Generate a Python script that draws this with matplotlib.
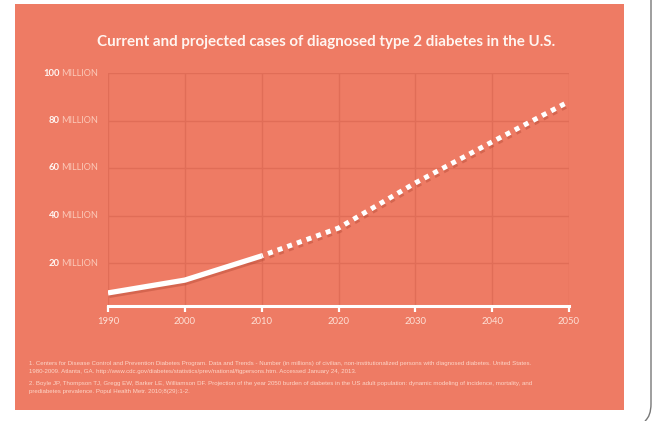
import matplotlib
matplotlib.use("Agg")
import matplotlib.pyplot as plt
import matplotlib.patheffects as pe
from matplotlib.patches import Rectangle, PathPatch
from matplotlib.path import Path

# data (millions of people)
years_actual = [1990, 2000, 2010]
cases_actual = [7.4, 12.8, 23.0]
years_proj = [2010, 2020, 2030, 2040, 2050]
cases_proj = [23.0, 34.7, 53.7, 71.0, 88.0]

x_ticks = [1990, 2000, 2010, 2020, 2030, 2040, 2050]
y_ticks = [20, 40, 60, 80, 100]

title = "Current and projected cases of diagnosed type 2 diabetes in the U.S."
notes = [
    "1. Centers for Disease Control and Prevention Diabetes Program. Data and Trends - Number (in millions) of civilian, non-institutionalized persons with diagnosed diabetes. United States.",
    "1980-2009. Atlanta, GA. http://www.cdc.gov/diabetes/statistics/prev/national/figpersons.htm. Accessed January 24, 2013.",
    "2. Boyle JP, Thompson TJ, Gregg EW, Barker LE, Williamson DF. Projection of the year 2050 burden of diabetes in the US adult population: dynamic modeling of incidence, mortality, and",
    "prediabetes prevalence. Popul Health Metr. 2010;8(29):1-2.",
]

bg = "#ee7b64"
grid_c = "#e06d57"
W, H = 657, 421

plt.rcParams['font.family'] = ['Lato', 'DejaVu Sans']
fig = plt.figure(figsize=(W / 100, H / 100), dpi=100)
fig.patch.set_facecolor("white")

# salmon card
fig.patches.append(Rectangle((15 / W, 1 - 410 / H), 609 / W, 406 / H,
                             transform=fig.transFigure, facecolor=bg, edgecolor="none", zorder=0))

# grey bracket on the right
verts = [(651 / W, 1.0), (651 / W, 1 - 404 / H), (651 / W, 1 - 416 / H), (645 / W, 1 - 421 / H)]
codes = [Path.MOVETO, Path.LINETO, Path.CURVE3, Path.CURVE3]
fig.patches.append(PathPatch(Path(verts, codes), transform=fig.transFigure,
                             facecolor="none", edgecolor="#777777", lw=1.0, zorder=1))

ax = fig.add_axes([108 / W, 110.5 / H, 461 / W, 237.5 / H])
ax.set_zorder(3)
ax.set_facecolor("none")
ax.set_xlim(1990, 2050)
ax.set_ylim(0, 100)

for yv in y_ticks:
    ax.plot([1990, 2050], [yv, yv], color=grid_c, lw=1.0, zorder=1)
for xv in x_ticks:
    ax.plot([xv, xv], [0, 100], color=grid_c, lw=1.0, zorder=1)

shadow = [pe.SimpleLineShadow(offset=(0.8, -1.8), shadow_color="#b04430", alpha=0.4), pe.Normal()]
ax.plot(years_actual, cases_actual, color="white", lw=3.8, solid_capstyle="butt",
        path_effects=shadow, zorder=4)
ax.plot(years_proj, cases_proj, color="white", lw=3.6, dash_capstyle="butt",
        linestyle=(0.7, (1.0, 1.05)), path_effects=shadow, zorder=4)

for s in ["top", "right", "left"]:
    ax.spines[s].set_visible(False)
ax.spines["bottom"].set_position(("data", 1.8))
ax.spines["bottom"].set_color("white")
ax.spines["bottom"].set_linewidth(2.2)
ax.spines["bottom"].set_zorder(5)

ax.set_xticks(x_ticks)
ax.set_xticklabels([str(v) for v in x_ticks])
ax.tick_params(axis="x", colors="white", length=4, width=1.6, direction="out", pad=4,
               labelsize=6.8, labelcolor="#fde0d6")
ax.set_yticks([])

# y labels: bold number + light "MILLION"
fig.canvas.draw()
renderer = fig.canvas.get_renderer()
for yv in y_ticks:
    t = ax.annotate("MILLION", xy=(0, yv), xycoords=("axes fraction", "data"),
                    xytext=(-10, 0), textcoords="offset pixels", ha="right", va="center",
                    fontsize=6.6, color="#fbc9b9")
    w = t.get_window_extent(renderer).width
    ax.annotate(str(yv), xy=(0, yv), xycoords=("axes fraction", "data"),
                xytext=(-10 - w - 1.5, 0), textcoords="offset pixels", ha="right", va="center",
                fontsize=6.8, color="#fff6f2", fontweight="bold")

fig.text(326 / W, 1 - 42 / H, title, ha="center", va="center", fontsize=10.9,
         fontweight="bold", color="#fff5f0")

note_y = [363, 372, 383, 392]
for line, yy in zip(notes, note_y):
    fig.text(29 / W, 1 - yy / H, line, ha="left", va="center", fontsize=4.4,
             color="#fdd6c8", family=["Liberation Sans Narrow", "Liberation Sans"])

fig.savefig("out.png", dpi=100, facecolor=fig.get_facecolor())
